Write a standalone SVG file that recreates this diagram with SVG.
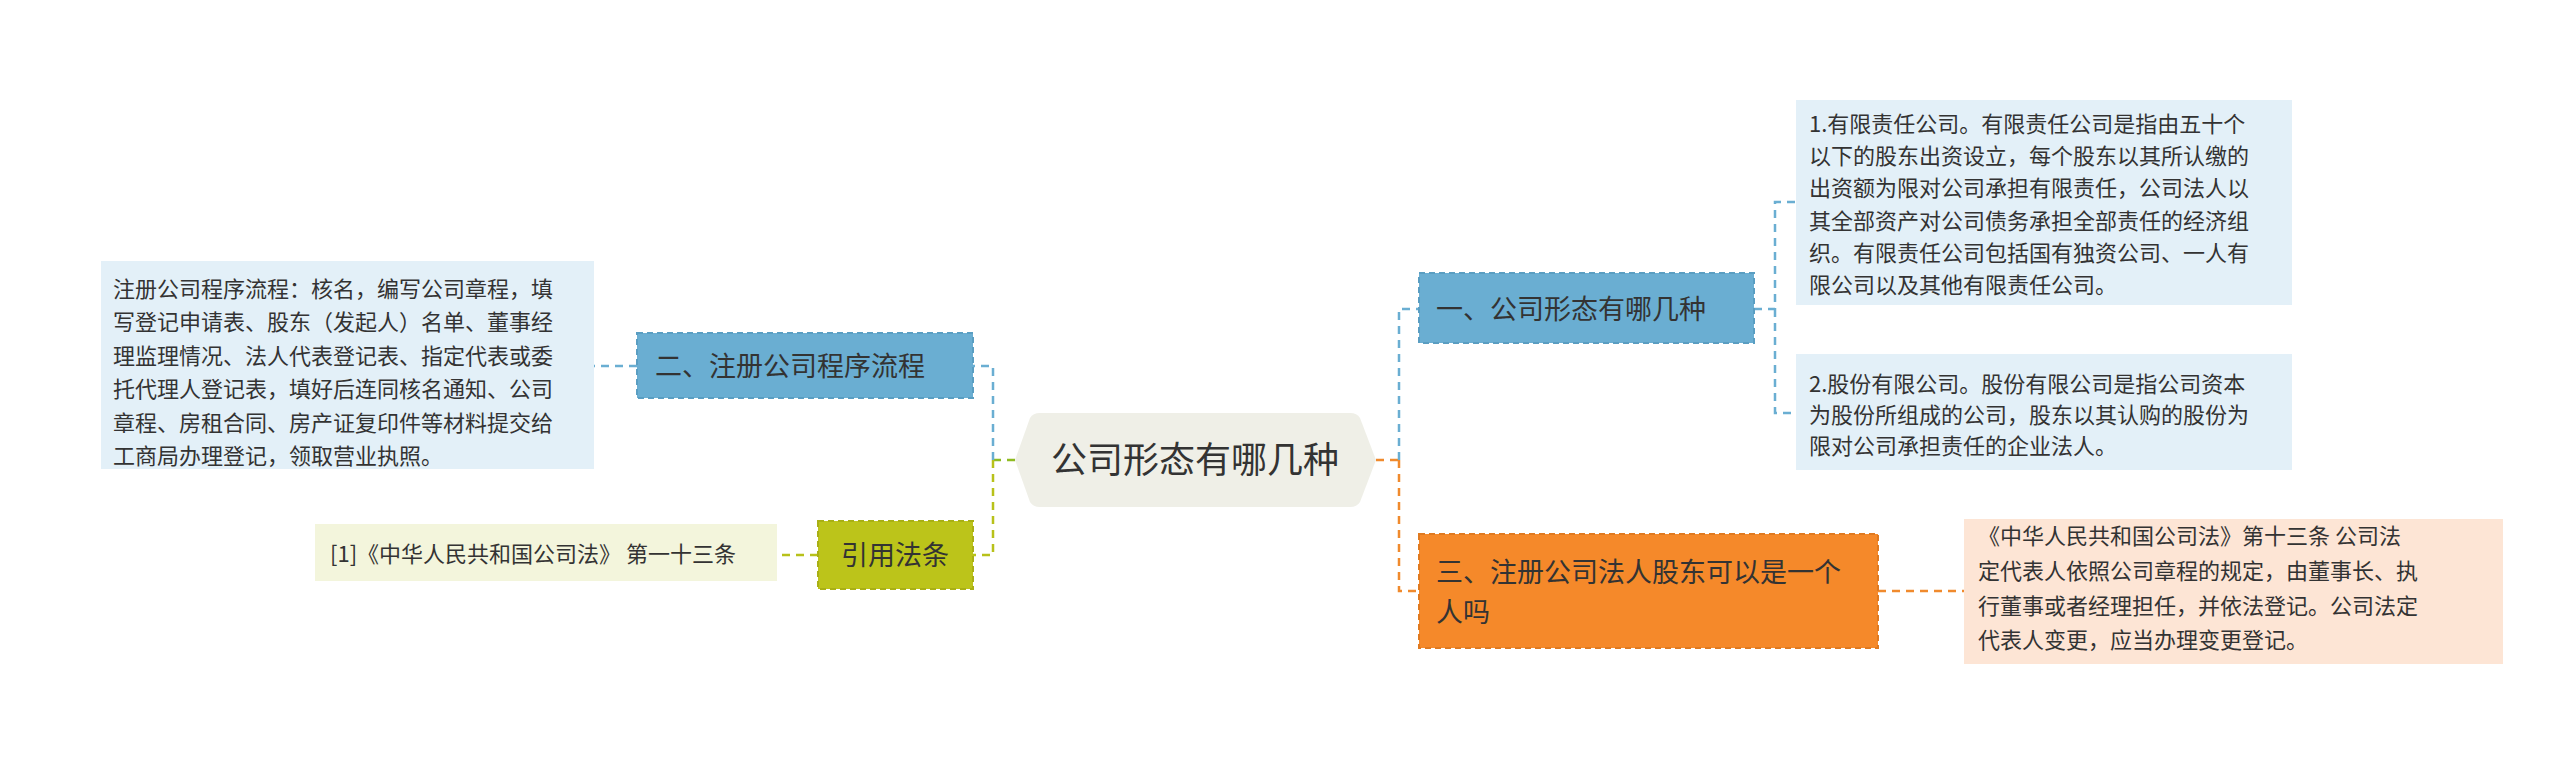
<svg xmlns="http://www.w3.org/2000/svg" width="2560" height="766" viewBox="0 0 2560 766">
<style>
text{font-family:"Noto Sans CJK SC","Liberation Sans",sans-serif;fill:#333}
.t{font-size:22px}
.m{font-size:27px}
.c{fill:none;stroke-width:2.5;stroke-dasharray:8 6}
.bd{stroke-width:2;stroke-dasharray:6 4}
</style>
<rect width="2560" height="766" fill="#fff"/>
<g id="connectors">
<path class="c" stroke="#8fbb22" d="M1015 460 H993"/>
<path class="c" stroke="#6aaed2" d="M993 460 V366 H973"/>
<path class="c" stroke="#b8c11a" d="M993 460 V555 H973"/>
<path class="c" stroke="#6aaed2" d="M637 366 H594"/>
<path class="c" stroke="#b8c11a" d="M818 555 H777"/>
<path class="c" stroke="#f08a2d" d="M1376 460 H1399"/>
<path class="c" stroke="#6aaed2" d="M1399 460 V309 H1419"/>
<path class="c" stroke="#f08a2d" d="M1399 460 V591 H1419"/>
<path class="c" stroke="#6aaed2" d="M1754 309 H1775 V202 H1796 M1775 309 V413 H1796"/>
<path class="c" stroke="#f08a2d" d="M1878 591 H1964"/>
</g>
<g id="center">
<path d="M1015 460 L1030 418 Q1033 413 1040 413 H1350 Q1357 413 1360 418 L1376 460 L1360 502 Q1357 507 1350 507 H1040 Q1033 507 1030 502 Z" fill="#efefe7"/>
<text x="1195" y="473" font-size="36" text-anchor="middle">公司形态有哪几种</text>
</g>
<g id="n2">
<rect x="637" y="333" width="336" height="65" fill="#6aaed2" stroke="#5a9ec2" class="bd"/>
<text x="655" y="376" class="m">二、注册公司程序流程</text>
</g>
<g id="n2text">
<rect x="101" y="261" width="493" height="208" fill="#e3f0f8"/>
<text class="t"><tspan x="113" y="297">注册公司程序流程：核名，编写公司章程，填</tspan><tspan x="113" y="330">写登记申请表、股东（发起人）名单、董事经</tspan><tspan x="113" y="364">理监理情况、法人代表登记表、指定代表或委</tspan><tspan x="113" y="397">托代理人登记表，填好后连同核名通知、公司</tspan><tspan x="113" y="431">章程、房租合同、房产证复印件等材料提交给</tspan><tspan x="113" y="464">工商局办理登记，领取营业执照。</tspan></text>
</g>
<g id="ref">
<rect x="818" y="521" width="155" height="68" fill="#bcc41a" stroke="#a9b015" class="bd"/>
<text x="895" y="565" class="m" text-anchor="middle">引用法条</text>
</g>
<g id="reftext">
<rect x="315" y="524" width="462" height="57" fill="#f3f5dc"/>
<text x="330" y="562" class="t">[1]《中华人民共和国公司法》 第一十三条</text>
</g>
<g id="n1">
<rect x="1419" y="273" width="335" height="70" fill="#6aaed2" stroke="#5a9ec2" class="bd"/>
<text x="1436" y="319" class="m">一、公司形态有哪几种</text>
</g>
<g id="n1a">
<rect x="1796" y="100" width="496" height="205" fill="#e3f0f8"/>
<text class="t"><tspan x="1809" y="132">1.有限责任公司。有限责任公司是指由五十个</tspan><tspan x="1809" y="164">以下的股东出资设立，每个股东以其所认缴的</tspan><tspan x="1809" y="196">出资额为限对公司承担有限责任，公司法人以</tspan><tspan x="1809" y="229">其全部资产对公司债务承担全部责任的经济组</tspan><tspan x="1809" y="261">织。有限责任公司包括国有独资公司、一人有</tspan><tspan x="1809" y="293">限公司以及其他有限责任公司。</tspan></text>
</g>
<g id="n1b">
<rect x="1796" y="354" width="496" height="116" fill="#e3f0f8"/>
<text class="t"><tspan x="1809" y="392">2.股份有限公司。股份有限公司是指公司资本</tspan><tspan x="1809" y="423">为股份所组成的公司，股东以其认购的股份为</tspan><tspan x="1809" y="454">限对公司承担责任的企业法人。</tspan></text>
</g>
<g id="n3">
<rect x="1419" y="534" width="459" height="114" fill="#f5892a" stroke="#e07a20" class="bd"/>
<text class="m"><tspan x="1436" y="582">三、注册公司法人股东可以是一个</tspan><tspan x="1436" y="622">人吗</tspan></text>
</g>
<g id="n3text">
<rect x="1964" y="519" width="539" height="145" fill="#fde5d5"/>
<text class="t"><tspan x="1978" y="544">《中华人民共和国公司法》第十三条 公司法</tspan><tspan x="1978" y="579">定代表人依照公司章程的规定，由董事长、执</tspan><tspan x="1978" y="614">行董事或者经理担任，并依法登记。公司法定</tspan><tspan x="1978" y="648">代表人变更，应当办理变更登记。</tspan></text>
</g>
</svg>
